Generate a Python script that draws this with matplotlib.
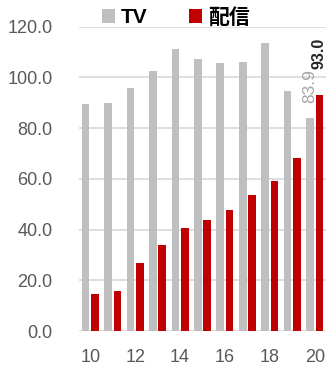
import matplotlib.pyplot as plt
import numpy as np

plt.rcParams["font.family"] = ["Liberation Sans", "Noto Sans CJK JP"]

years = [10, 11, 12, 13, 14, 15, 16, 17, 18, 19, 20]
tv = [89.4, 89.8, 95.9, 102.7, 111.4, 107.2, 105.6, 106.1, 113.6, 94.8, 83.9]
streaming = [14.7, 15.8, 27.0, 33.8, 40.8, 43.7, 47.7, 53.8, 59.3, 68.2, 93.0]
series_names = ["TV", "配信"]
yticks = [0, 20, 40, 60, 80, 100, 120]

GRAY = "#BFBFBF"
RED = "#C00000"
TICK = "#595959"

fig = plt.figure(figsize=(3.26, 3.71), dpi=100)
ax = fig.add_axes([0.2423, 0.1078, 0.7577, 0.8202])

x = np.arange(len(years))
w = 0.34
off = 0.21
b_tv = ax.bar(x - off, tv, w, color=GRAY, label=series_names[0], zorder=2)
b_st = ax.bar(x + off, streaming, w, color=RED, label=series_names[1], zorder=2)

# value labels on the last year only
ax.annotate(f"{tv[-1]:.1f}", (x[-1] - off, tv[-1]), xytext=(0, 11),
            textcoords="offset points", rotation=90, ha="center", va="bottom",
            fontsize=12.5, color="#A6A6A6", clip_on=False)
ax.annotate(f"{streaming[-1]:.1f}", (x[-1] + off, streaming[-1]), xytext=(0, 19),
            textcoords="offset points", rotation=90, ha="center", va="bottom",
            fontsize=11.5, fontweight="bold", color="#262626", clip_on=False)

ax.set_xlim(-0.5, len(years) - 0.5)
ax.set_ylim(0, 120)
ax.set_yticks(yticks)
ax.set_yticklabels([f"{v:.1f}" for v in yticks])
ax.set_xticks(x[::2])
ax.set_xticklabels([str(y) for y in years[::2]])
ax.tick_params(axis="y", length=0, pad=19, labelsize=13, labelcolor=TICK)
ax.tick_params(axis="x", length=0, pad=13, labelsize=13, labelcolor=TICK)
ax.grid(axis="y", color="#D9D9D9", linewidth=1.2, zorder=0)
ax.set_axisbelow(True)
for s in ax.spines.values():
    s.set_visible(False)

fig.legend(handles=[b_tv, b_st], loc="center", bbox_to_anchor=(0.54, 0.953),
           ncol=2, frameon=False, handlelength=0.6, handleheight=0.6,
           handletextpad=0.3, columnspacing=2.0,
           prop={"size": 15, "weight": "bold"})

fig.savefig("out.png", dpi=100)
